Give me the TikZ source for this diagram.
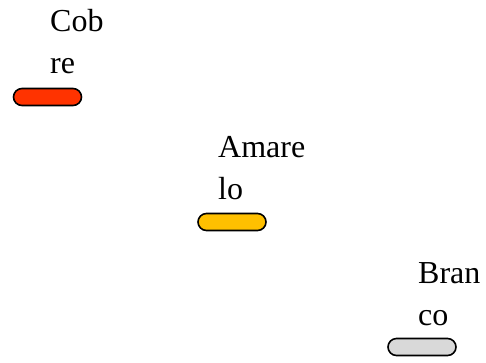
\documentclass[tikz,border=0pt]{standalone}
\usepackage{fontspec}
\setmainfont{Liberation Serif}
\definecolor{copper}{HTML}{FF3300}
\definecolor{amber}{HTML}{FFC000}
\definecolor{silver}{HTML}{D9D9D9}
\begin{document}
\begin{tikzpicture}[x=1pt, y=-1pt,
  lbl/.style={anchor=base west, inner sep=0pt, font=\fontsize{32}{42}\selectfont},
  pill/.style={draw=black, line width=1.6pt, rounded corners=8.5pt,
    minimum width=68pt, minimum height=17pt, inner sep=0pt}]
  \useasboundingbox (0,0) rectangle (486,362);
  % Cobre
  \node[lbl] (cob1) at (50,31) {Cob};
  \node[lbl] (cob2) at (50,73) {re};
  \node[pill, fill=copper] (cobpill) at (47.5,97) {};
  % Amarelo
  \node[lbl] (ama1) at (218,157) {Amare};
  \node[lbl] (ama2) at (218,199) {lo};
  \node[pill, fill=amber] (amapill) at (232,222) {};
  % Branco
  \node[lbl] (bra1) at (418,283) {Bran};
  \node[lbl] (bra2) at (418,325) {co};
  \node[pill, fill=silver] (brapill) at (422,347) {};
\end{tikzpicture}
\end{document}
